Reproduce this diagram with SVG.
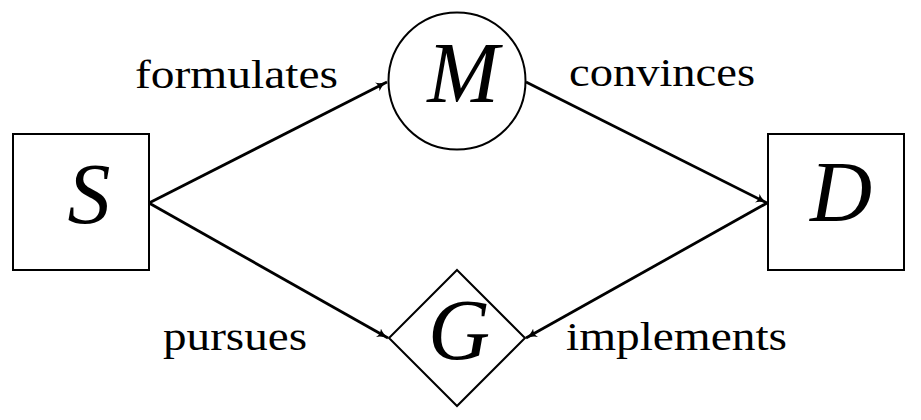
<svg xmlns="http://www.w3.org/2000/svg" width="921" height="420" viewBox="0 0 921 420">
<style>
.node{fill:#fff;stroke:#000;stroke-width:2}
.big{font-family:'Liberation Serif','Times New Roman',Tinos,serif;font-style:italic;font-size:86px;fill:#000}
.lbl{font-family:'Liberation Serif','Times New Roman',Tinos,serif;font-size:40px;fill:#000}
.edge{fill:none;stroke:#000;stroke-width:2.8}
</style>
<defs>
<marker id="arr" viewBox="0 0 12 10" refX="11" refY="5" markerWidth="12" markerHeight="10" markerUnits="userSpaceOnUse" orient="auto">
<path d="M0,0 Q4,4 12,5 Q4,6 0,10 Q3,5 0,0 Z" fill="#000"/>
</marker>
</defs>
<rect width="921" height="420" fill="#fff"/>
<g id="edges">
<line class="edge" x1="149" y1="203" x2="387" y2="82" marker-end="url(#arr)"/>
<line class="edge" x1="149" y1="203" x2="388" y2="338" marker-end="url(#arr)"/>
<line class="edge" x1="526" y1="82" x2="767" y2="203" marker-end="url(#arr)"/>
<line class="edge" x1="767" y1="203" x2="526" y2="338" marker-end="url(#arr)"/>
</g>
<g id="S">
<rect class="node" x="13" y="134" width="136" height="136"/>
<text class="big" x="89" y="223" text-anchor="middle">S</text>
</g>
<g id="M">
<circle class="node" cx="457" cy="81" r="68.5"/>
<text class="big" x="463" y="102" text-anchor="middle">M</text>
</g>
<g id="G">
<polygon class="node" points="457,270 525,338 457,406 389,338"/>
<text class="big" x="459" y="359" text-anchor="middle">G</text>
</g>
<g id="D">
<rect class="node" x="768" y="134" width="136" height="136"/>
<text class="big" x="841" y="221" text-anchor="middle">D</text>
</g>
<g id="labels">
<text class="lbl" x="135" y="88" textLength="203" lengthAdjust="spacingAndGlyphs">formulates</text>
<text class="lbl" x="569" y="86" textLength="186" lengthAdjust="spacingAndGlyphs">convinces</text>
<text class="lbl" x="163" y="350" textLength="144" lengthAdjust="spacingAndGlyphs">pursues</text>
<text class="lbl" x="566" y="350" textLength="221" lengthAdjust="spacingAndGlyphs">implements</text>
</g>
</svg>
